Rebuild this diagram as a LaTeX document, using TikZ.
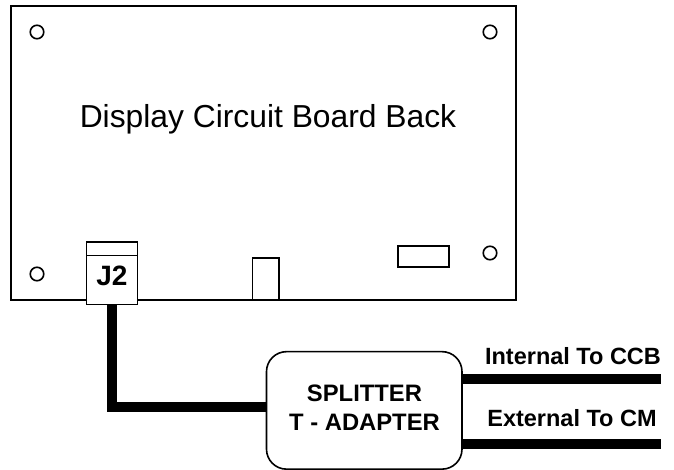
\documentclass[tikz,border=0pt]{standalone}
\usepackage{fontspec}
\setmainfont{Liberation Sans}
\usetikzlibrary{calc,
positioning}

\begin{document}
\begin{tikzpicture}[
  x=1pt,
  y=-1pt,
  every node/.style={outer sep=0pt, inner sep=0pt},
  part/.style={draw, line width=1.6pt, fill=white},
  hole/.style={circle, draw, line width=1.6pt, minimum size=13.5pt},
  cable/.style={line width=10pt},
  boldtext/.style={font=\fontsize{#1}{#1}\selectfont\bfseries, align=center}
]

  \useasboundingbox (0,0) rectangle (674,470);

  \node [
    part,
    minimum width = 505pt,
    minimum height = 294pt] (board) at (263.5,153) {};
  \node [font=\fontsize{31.8}{36}\selectfont] (title) at (268,119) {Display Circuit Board Back};

  \foreach \i/\x/\y in {1/37/32,2/490/32,3/37/274,4/490/253} {
    \node [hole] (hole\i) at (\x,\y) {};
  }

  \node [
    part,
    minimum width = 26.5pt,
    minimum height = 42pt] (plug) at (265.75,279) {};
  \node [
    part,
    minimum width = 51pt,
    minimum height = 21pt] (header) at (423.5,256.5) {};

  \node [
    part,
    minimum width = 51pt,
    minimum height = 49pt] (j2) at (112,280) {};
  \node [
    part,
    minimum width = 51pt,
    minimum height = 13.5pt,
    above = 0pt of j2
  ] (j2_top) {};
  \node [boldtext=28, yshift=4pt] (j2_lb) at (j2) {J2};

  \node [
    part,
    rounded corners=20pt,
    minimum width = 195.5pt,
    minimum height = 117.5pt] (splitter) at (364.25,410.4) {};
  \node [boldtext=23.8] (splitter_lb) at (364.5,408) {SPLITTER\\[5pt]T - ADAPTER};

  \coordinate (ccb_end) at (660.7,379.3);
  \coordinate (cm_end) at (660.7,443.7);

  \draw [cable] (j2.south -| 111.7,0) |- ([yshift=3pt]splitter.west);
  \draw [cable] (splitter.east |- ccb_end) -- (ccb_end);
  \draw [cable] (splitter.east |- cm_end) -- (cm_end);

  \node [boldtext=23.5] (ccb_lb) at (573,356) {Internal To CCB};
  \node [boldtext=23.5] (cm_lb) at (572,418) {External To CM};

\end{tikzpicture}
\end{document}
